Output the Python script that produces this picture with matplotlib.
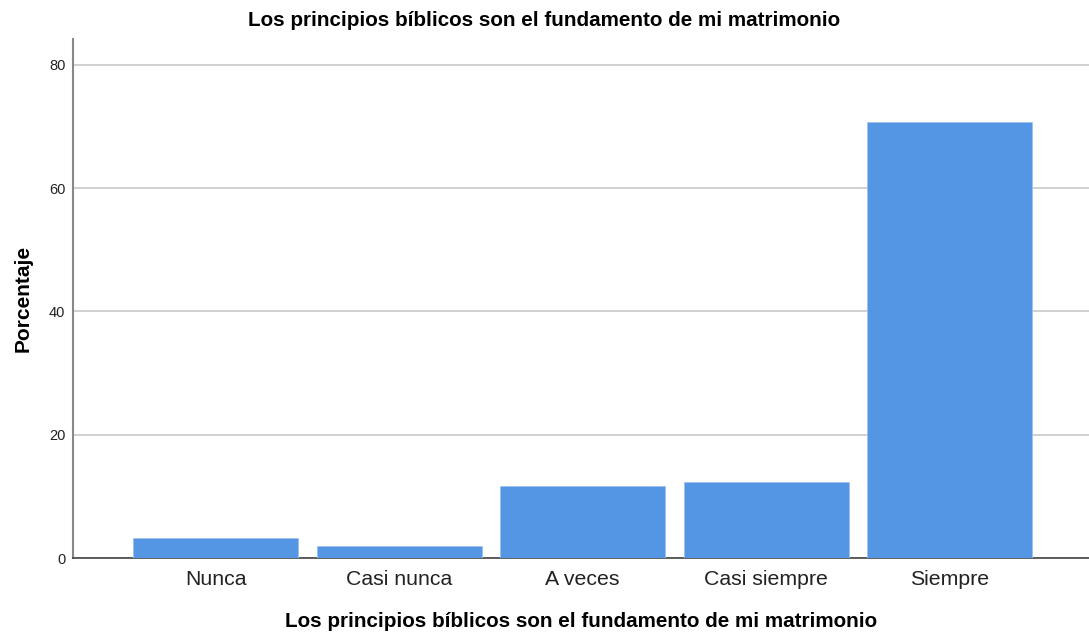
import matplotlib
matplotlib.use("Agg")
import matplotlib.pyplot as plt

categories = ["Nunca", "Casi nunca", "A veces", "Casi siempre", "Siempre"]
percentages = [3.3, 2.0, 11.6, 12.4, 70.7]
yticks = [0, 20, 40, 60, 80]
title = "Los principios bíblicos son el fundamento de mi matrimonio"

plt.rcParams['font.family'] = ['Liberation Sans', 'DejaVu Sans']

fig = plt.figure(figsize=(10.89, 6.35), dpi=100)
ax = fig.add_axes([73/1089, (635-558)/635, 1 - 73/1089, (558-39)/635])

x = list(range(len(categories)))
ax.bar(x, percentages, width=0.9, color='#5596E4', edgecolor='#9cc2f0', linewidth=0.6, zorder=3)
ax.set_xlim(-0.778, 4.76)
ax.set_ylim(0, 84.2)
ax.set_yticks(yticks)
ax.set_yticklabels([str(v) for v in yticks], fontsize=10.5)
ax.set_xticks(x)
ax.set_xticklabels(categories, fontsize=15.3)
ax.yaxis.grid(True, color='#c8c8c8', linewidth=1.2, zorder=0)
ax.tick_params(axis='both', length=0, colors='#222222')
ax.tick_params(axis='y', pad=5.5)
ax.tick_params(axis='x', pad=8.5)
for s in ['top', 'right']:
    ax.spines[s].set_visible(False)
ax.spines['left'].set_color('#888888')
ax.spines['left'].set_linewidth(1.5)
ax.spines['bottom'].set_color('#444444')
ax.spines['bottom'].set_linewidth(1.2)

fig.text(0.5, 1 - 21/635, title, fontsize=14.9, fontweight='bold', ha='center', va='center')
ax.set_xlabel(title, fontsize=14.9, fontweight='bold', labelpad=16.5)
ax.set_ylabel("Porcentaje", fontsize=15, fontweight='bold', labelpad=12)

fig.savefig("out.png", dpi=100)
